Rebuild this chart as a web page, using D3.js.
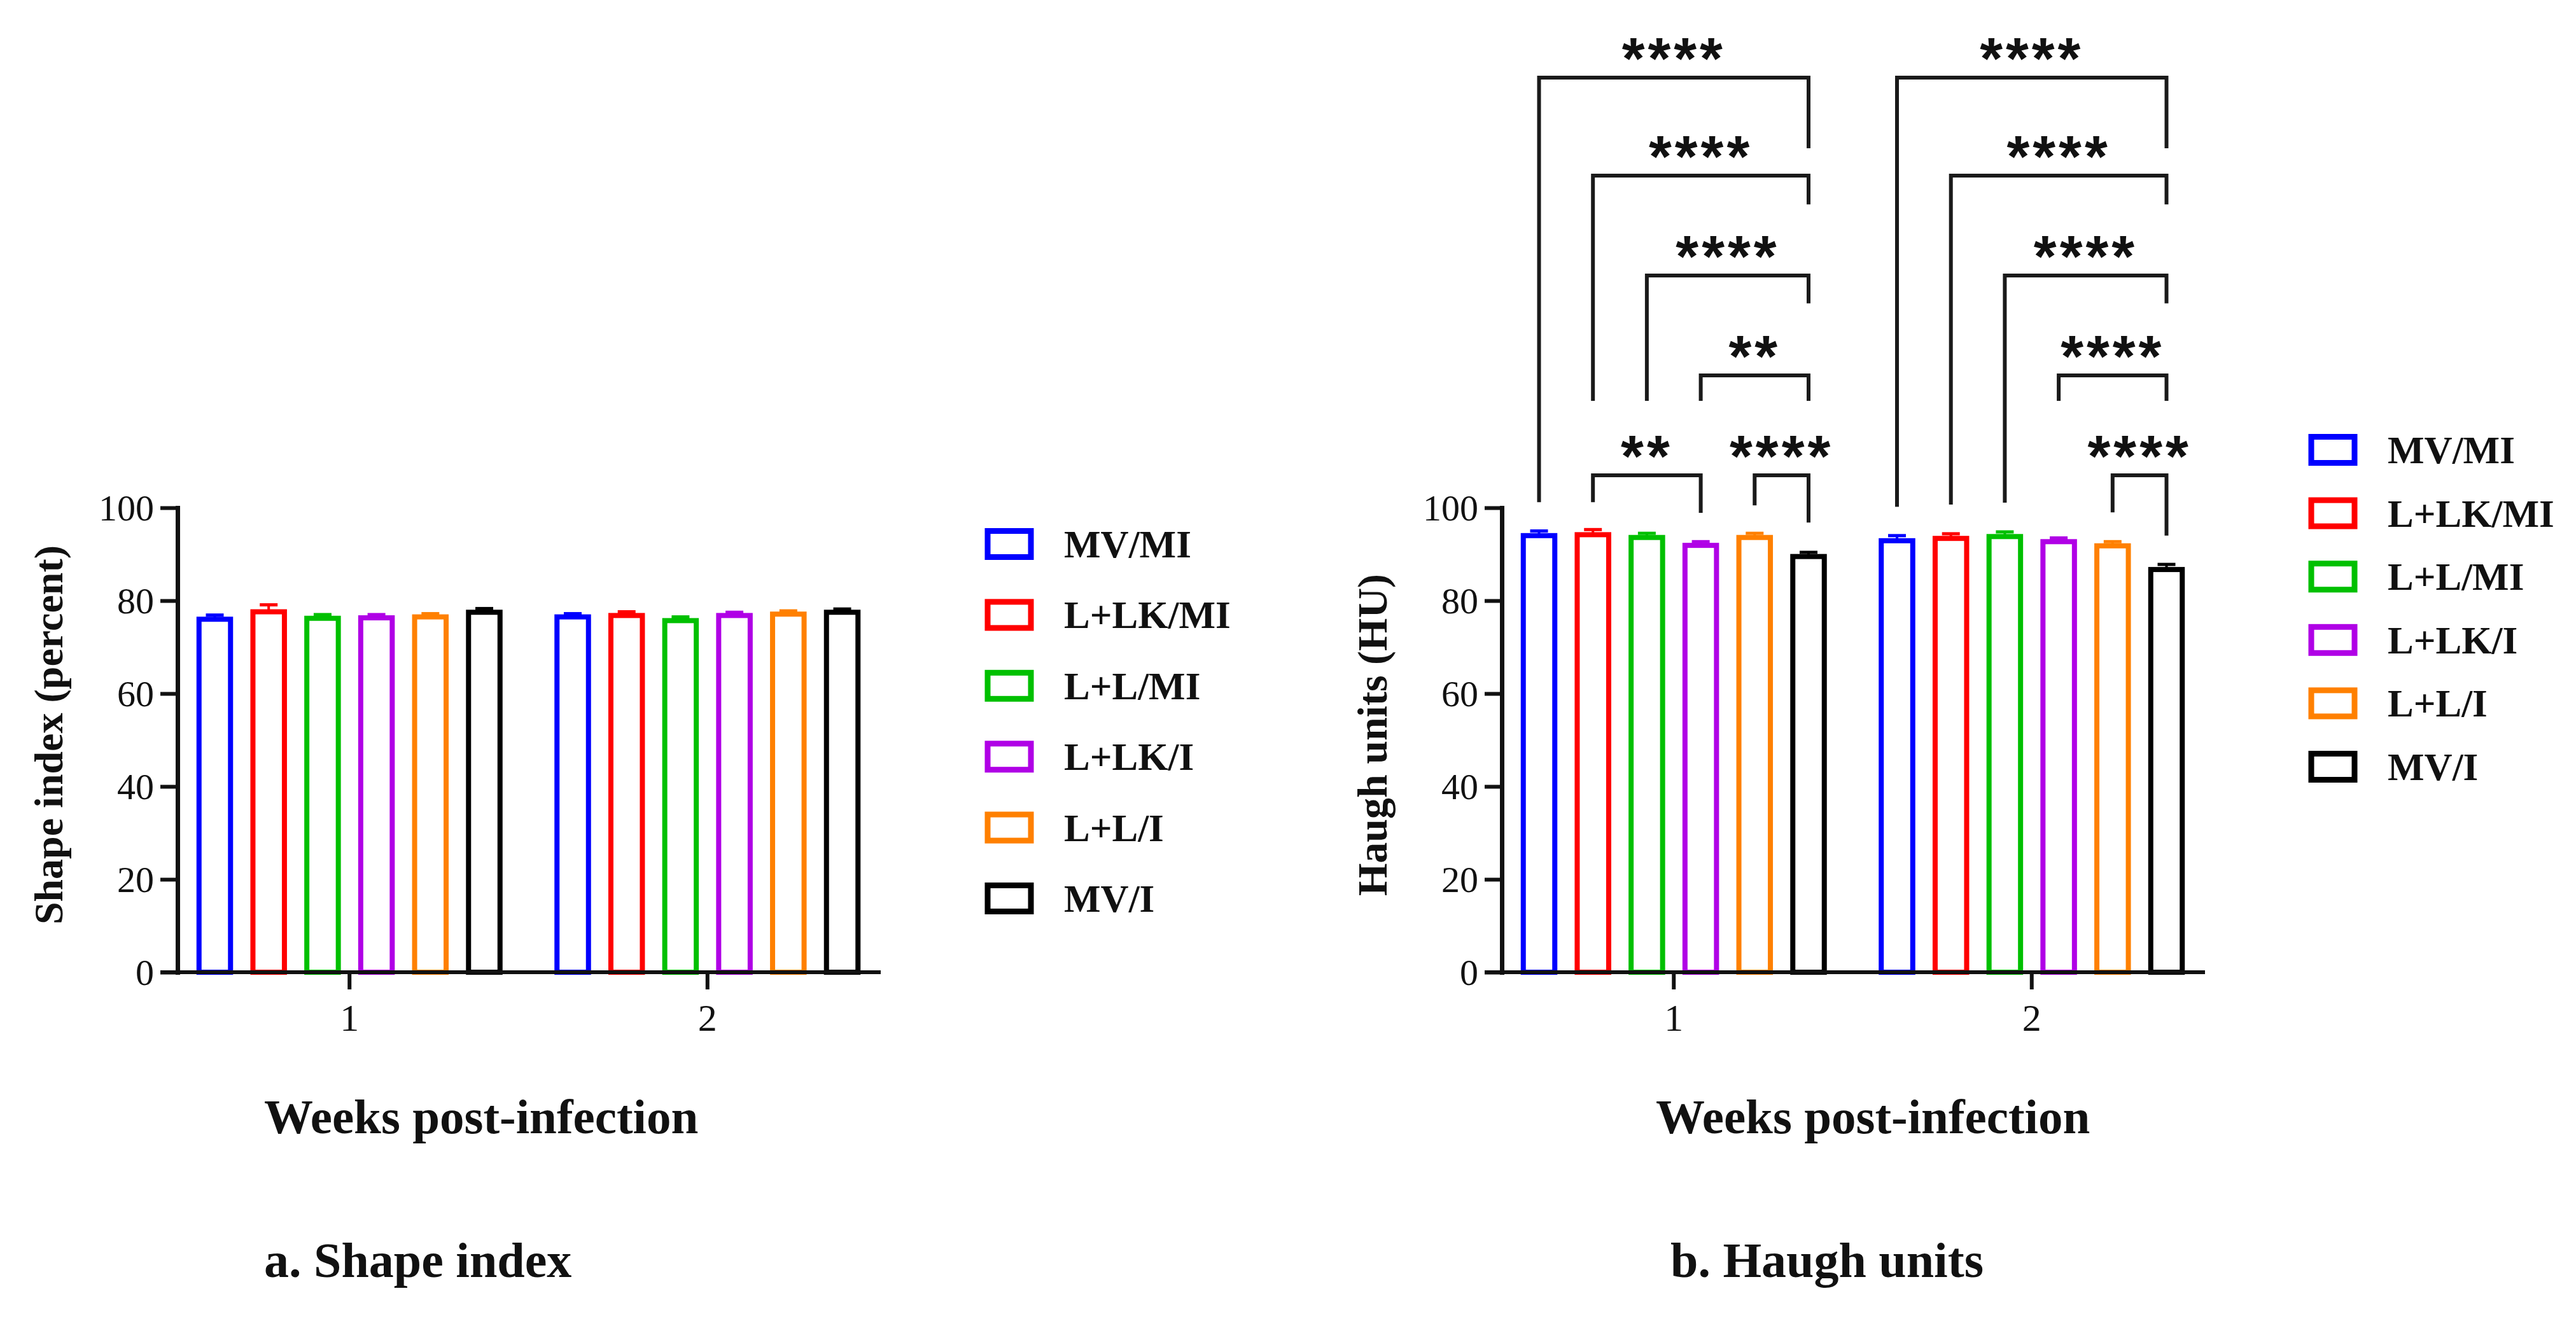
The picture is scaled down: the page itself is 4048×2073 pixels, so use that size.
<!DOCTYPE html>
<html>
<head>
<meta charset="utf-8">
<script src="https://cdn.jsdelivr.net/npm/d3@7"></script>
<style>
  html, body { margin: 0; padding: 0; background: #fff; }
  svg { display: block; }
</style>
</head>
<body>
<script>
// ---------------- DATA ----------------
const weeks = ["1", "2"];
const series = ["MV/MI", "L+LK/MI", "L+L/MI", "L+LK/I", "L+L/I", "MV/I"];
const seriesColors = ["#0000FF", "#FF0000", "#00C000", "#B000E6", "#FF8000", "#000000"];
const yTickValues = [0, 20, 40, 60, 80, 100];

// Shape index (percent), mean and SEM per week
const shapeWeek1 = [76.0, 77.6, 76.2, 76.3, 76.5, 77.5];
const shapeWeek2 = [76.5, 76.8, 75.7, 76.8, 77.1, 77.5];
const shapeErrWeek1 = [0.9, 1.5, 0.8, 0.7, 0.7, 0.8];
const shapeErrWeek2 = [0.7, 0.8, 0.8, 0.7, 0.7, 0.7];

// Haugh units (HU), mean and SEM per week
const haughWeek1 = [94.0, 94.2, 93.6, 91.9, 93.6, 89.5];
const haughWeek2 = [92.9, 93.4, 93.8, 92.7, 91.8, 86.7];
const haughErrWeek1 = [1.0, 1.1, 0.9, 0.8, 0.9, 0.9];
const haughErrWeek2 = [1.1, 1.0, 1.0, 0.8, 0.9, 1.1];

// Significance brackets for Haugh units (levels and leg ends in data units)
const haughComparisons = [
  { week: "1", from: "MV/MI",   to: "MV/I",   label: "****", level: 192.6, leftEnd: 101.2, rightEnd: 177.4 },
  { week: "1", from: "L+LK/MI", to: "MV/I",   label: "****", level: 171.5, leftEnd: 123.0, rightEnd: 165.3 },
  { week: "1", from: "L+L/MI",  to: "MV/I",   label: "****", level: 150.0, leftEnd: 123.0, rightEnd: 144.0 },
  { week: "1", from: "L+LK/I",  to: "MV/I",   label: "**",   level: 128.5, leftEnd: 123.0, rightEnd: 123.0 },
  { week: "1", from: "L+LK/MI", to: "L+LK/I", label: "**",   level: 107.0, leftEnd: 101.2, rightEnd: 98.9 },
  { week: "1", from: "L+L/I",   to: "MV/I",   label: "****", level: 107.0, leftEnd: 100.5, rightEnd: 96.8 },
  { week: "2", from: "MV/MI",   to: "MV/I",   label: "****", level: 192.6, leftEnd: 100.2, rightEnd: 177.4 },
  { week: "2", from: "L+LK/MI", to: "MV/I",   label: "****", level: 171.5, leftEnd: 100.7, rightEnd: 165.3 },
  { week: "2", from: "L+L/MI",  to: "MV/I",   label: "****", level: 150.0, leftEnd: 101.1, rightEnd: 144.0 },
  { week: "2", from: "L+LK/I",  to: "MV/I",   label: "****", level: 128.5, leftEnd: 123.0, rightEnd: 123.0 },
  { week: "2", from: "L+L/I",   to: "MV/I",   label: "****", level: 107.0, leftEnd: 99.0,  rightEnd: 94.0 }
];

// ---------------- LAYOUT ----------------
const W = 4048, H = 2073;
const SERIF = "'Liberation Serif', 'Times New Roman', serif";
const SANS = "'Liberation Sans', Arial, sans-serif";

const svg = d3.select("body").append("svg")
  .attr("width", W).attr("height", H)
  .attr("viewBox", `0 0 ${W} ${H}`);
svg.append("rect").attr("width", W).attr("height", H).attr("fill", "#fff");

function buildRows(week1, week2, err1, err2) {
  const rows = [];
  weeks.forEach((w, wi) => {
    series.forEach((s, si) => {
      rows.push({
        week: w, series: s, color: seriesColors[si],
        value: wi === 0 ? week1[si] : week2[si],
        err: wi === 0 ? err1[si] : err2[si]
      });
    });
  });
  return rows;
}

function drawPanel(cfg) {
  const g = svg.append("g").attr("transform", `translate(${cfg.dx},0)`);
  const axisX = 279, axisEnd = 1384, yTop = 798, yBottom = 1528, tickLen = 27;

  const y = d3.scaleLinear().domain([0, 100]).range([yBottom, yTop]);
  const x0 = d3.scaleBand().domain(weeks).range([268, 1393]).paddingInner(0).paddingOuter(0);
  const x1 = d3.scaleBand().domain(series).range([-236.5, 236.5]).paddingInner(0.4156).paddingOuter(0);
  const cx = (w, s) => x0(w) + x0.bandwidth() / 2 + x1(s) + x1.bandwidth() / 2;

  // bars
  const rows = cfg.rows;
  g.append("g").selectAll("rect").data(rows).join("rect")
    .attr("x", d => cx(d.week, d.series) - x1.bandwidth() / 2)
    .attr("y", d => y(d.value))
    .attr("width", x1.bandwidth())
    .attr("height", d => y(0) - y(d.value))
    .attr("fill", "none")
    .attr("stroke", d => d.color)
    .attr("stroke-width", 8);

  // error bars (upper only)
  const eb = g.append("g").selectAll("g").data(rows).join("g");
  eb.append("line")
    .attr("x1", d => cx(d.week, d.series)).attr("x2", d => cx(d.week, d.series))
    .attr("y1", d => y(d.value)).attr("y2", d => y(d.value + d.err))
    .attr("stroke", d => d.color).attr("stroke-width", 4);
  eb.append("line")
    .attr("x1", d => cx(d.week, d.series) - 14).attr("x2", d => cx(d.week, d.series) + 14)
    .attr("y1", d => y(d.value + d.err)).attr("y2", d => y(d.value + d.err))
    .attr("stroke", d => d.color).attr("stroke-width", 5);

  // y axis
  const yAxis = d3.axisLeft(y).tickValues(yTickValues).tickSize(tickLen).tickSizeOuter(0).tickPadding(10);
  const ya = g.append("g").attr("transform", `translate(${axisX},0)`).call(yAxis);
  ya.select(".domain").attr("stroke", "#111").attr("stroke-width", 7).attr("stroke-linecap", "square");
  ya.selectAll(".tick line").attr("stroke", "#111").attr("stroke-width", 6);
  ya.selectAll(".tick text")
    .attr("font-family", SERIF).attr("font-size", 58).attr("fill", "#111")
    .attr("dy", "0.34em");

  // x axis
  const xAxis = d3.axisBottom(x0).tickSize(tickLen).tickSizeOuter(0).tickPadding(22);
  const xa = g.append("g").attr("transform", `translate(0,${yBottom})`).call(xAxis);
  xa.select(".domain").remove();
  xa.selectAll(".tick line").attr("stroke", "#111").attr("stroke-width", 6);
  xa.selectAll(".tick text")
    .attr("font-family", SERIF).attr("font-size", 60).attr("fill", "#111");
  g.append("line")
    .attr("x1", axisX - tickLen).attr("x2", axisEnd)
    .attr("y1", yBottom).attr("y2", yBottom)
    .attr("stroke", "#111").attr("stroke-width", 6);

  // y axis title
  g.append("text")
    .attr("transform", `translate(${axisX - 181},${1155}) rotate(-90)`)
    .attr("text-anchor", "middle")
    .attr("font-family", SERIF).attr("font-weight", "bold").attr("font-size", cfg.yTitleSize)
    .attr("fill", "#111")
    .text(cfg.yTitle);

  // brackets
  if (cfg.comparisons) {
    const bg = g.append("g");
    cfg.comparisons.forEach(c => {
      const xl = cx(c.week, c.from), xr = cx(c.week, c.to);
      bg.append("path")
        .attr("d", d3.line()([[xl, y(c.leftEnd)], [xl, y(c.level)], [xr, y(c.level)], [xr, y(c.rightEnd)]]))
        .attr("fill", "none").attr("stroke", "#1a1a1a").attr("stroke-width", 6)
        .attr("stroke-linejoin", "miter");
      bg.append("text")
        .attr("x", (xl + xr) / 2).attr("y", y(c.level) + 2)
        .attr("text-anchor", "middle")
        .attr("font-family", SANS).attr("font-weight", "bold").attr("font-size", 92)
        .attr("letter-spacing", 5)
        .attr("fill", "#111")
        .text(c.label);
    });
  }

  // legend
  const lg = svg.append("g");
  series.forEach((s, i) => {
    const cy = cfg.legendY + i * cfg.legendStep;
    lg.append("rect")
      .attr("x", cfg.legendX).attr("y", cy - 20.5)
      .attr("width", 68).attr("height", 41)
      .attr("fill", "none").attr("stroke", seriesColors[i]).attr("stroke-width", 9);
    lg.append("text")
      .attr("x", cfg.legendX + 120).attr("y", cy + 21)
      .attr("font-family", SERIF).attr("font-weight", "bold").attr("font-size", 61)
      .attr("fill", "#111")
      .text(s);
  });

  // x axis title and caption
  svg.append("text")
    .attr("x", cfg.xTitleX).attr("y", 1781)
    .attr("font-family", SERIF).attr("font-weight", "bold").attr("font-size", 77)
    .attr("fill", "#111")
    .text("Weeks post-infection");
  svg.append("text")
    .attr("x", cfg.captionX).attr("y", 2007)
    .attr("font-family", SERIF).attr("font-weight", "bold").attr("font-size", 78)
    .attr("fill", "#111")
    .text(cfg.caption);
}

drawPanel({
  dx: 0,
  rows: buildRows(shapeWeek1, shapeWeek2, shapeErrWeek1, shapeErrWeek2),
  yTitle: "Shape index (percent)", yTitleSize: 64,
  legendX: 1552, legendY: 855, legendStep: 111.4,
  xTitleX: 415, captionX: 415, caption: "a. Shape index"
});

drawPanel({
  dx: 2081,
  rows: buildRows(haughWeek1, haughWeek2, haughErrWeek1, haughErrWeek2),
  yTitle: "Haugh units (HU)", yTitleSize: 66,
  comparisons: haughComparisons,
  legendX: 3632, legendY: 707, legendStep: 99.6,
  xTitleX: 2602, captionX: 2625, caption: "b. Haugh units"
});
</script>
</body>
</html>
